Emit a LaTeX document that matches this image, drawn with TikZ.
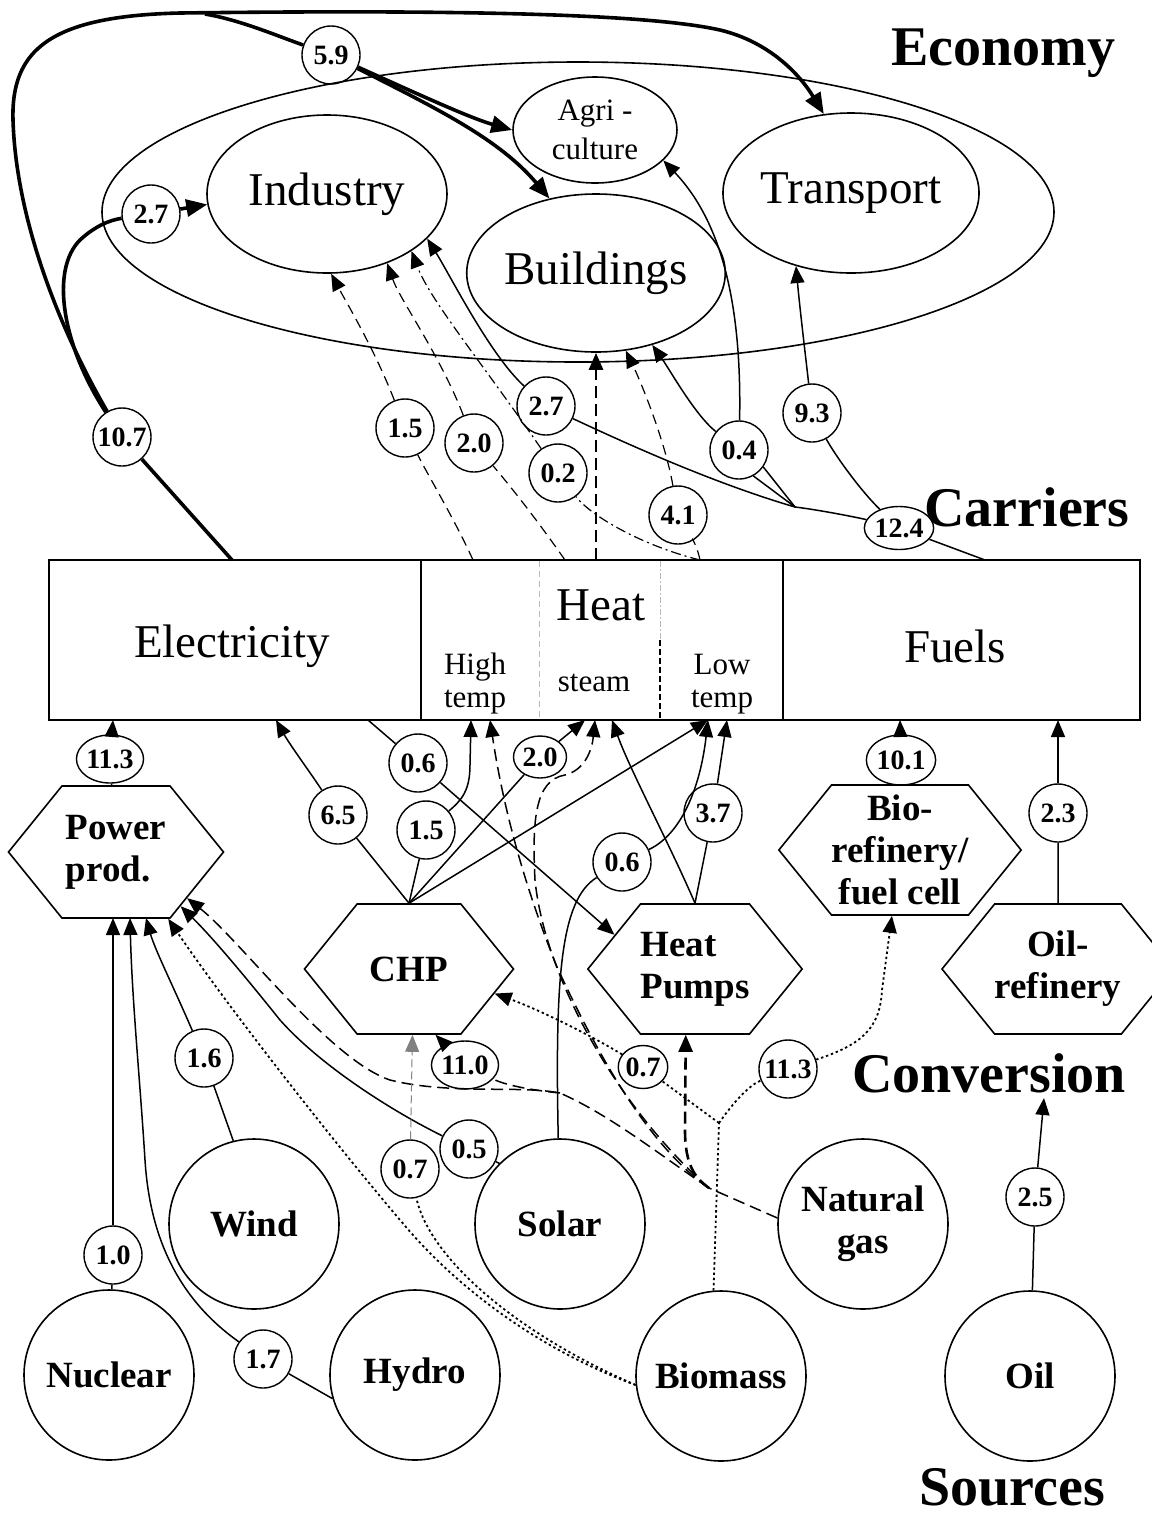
\documentclass[tikz,border=0pt]{standalone}
\usepackage{fontspec}
\setmainfont{Liberation Serif}
\usetikzlibrary{arrows.meta,shapes.geometric,shapes.symbols}

\begin{document}
\begin{tikzpicture}[x=0.5pt,y=-0.5pt,>={Triangle[length=8.5pt,width=7pt]},
  sector/.style={ellipse,draw,line width=0.8pt,inner sep=0pt,font=\fontsize{23.5}{26}\selectfont},
  carrier/.style={rectangle,draw,line width=0.9pt,minimum height=80pt,inner sep=0pt},
  bigword/.style={font=\fontsize{23.5}{26}\selectfont},
  plant/.style={signal,signal to=west and east,signal pointer angle=102,draw,line width=0.8pt,minimum height=65pt,inner sep=0pt,align=center,font=\fontsize{18.5}{21}\selectfont\bfseries},
  source/.style={circle,draw,line width=0.8pt,minimum size=85pt,inner sep=0pt,align=center,font=\fontsize{18.5}{21}\selectfont\bfseries},
  amount/.style={circle,draw,line width=0.7pt,minimum size=29pt,inner sep=0pt,font=\fontsize{14}{14}\selectfont\bfseries},
  flatamount/.style={amount,ellipse,minimum size=0pt},
  level/.style={font=\fontsize{28}{30}\selectfont\bfseries},
  sub/.style={align=center,font=\fontsize{15.5}{16.5}\selectfont},
  flow/.style={line width=0.75pt},
  fat/.style={line width=1.8pt},
  bigtip/.style={-{Triangle[length=10.5pt,width=8.5pt]}},
  gasline/.style={line width=0.75pt,dash pattern=on 6pt off 3pt},
  gasfat/.style={line width=1.3pt,dash pattern=on 6pt off 3pt},
  bioline/.style={line width=0.9pt,dash pattern=on 1.2pt off 1.4pt},
  heatline/.style={line width=0.6pt,dash pattern=on 5pt off 3pt},
  mixline/.style={line width=0.6pt,dash pattern=on 5pt off 2pt on 1pt off 2pt},
  faint/.style={line width=0.5pt,gray,dash pattern=on 4pt off 2pt}]

  \useasboundingbox (0,0) rectangle (1152,1517);

  % economy
  \node[sector,minimum width=476pt,minimum height=150pt] (econ) at (578,212) {};
  \node[sector,minimum width=120pt,minimum height=79pt] (indus) at (327,194) {Industry};
  \node[sector,minimum width=82pt,minimum height=53pt,align=center,font=\fontsize{15.5}{19.5}\selectfont] (agri) at (595,130) {Agri -\\culture};
  \node[sector,minimum width=121pt,minimum height=80pt] (trans) at (851,193) {Transport};
  \node[sector,minimum width=121pt,minimum height=79pt] (build) at (596,273) {Buildings};

  % carriers
  \node[carrier,minimum width=186pt] (elec) at (235,640) {};
  \node[carrier,minimum width=181pt] (heat) at (602,640) {};
  \node[carrier,minimum width=178.5pt] (fuels) at (961.5,640) {};
  \node[bigword] (elecname) at (232,646) {Electricity};
  \node[bigword] (heatname) at (601,605) {Heat};
  \node[bigword] (fuelsname) at (955,646) {Fuels};
  \node[sub] (hightemp) at (475,684) {High\\temp};
  \node[sub] (steam) at (594,683) {steam};
  \node[sub] (lowtemp) at (722,684) {Low\\temp};
  \draw[gray!55,line width=0.4pt,dash pattern=on 3pt off 2pt] (539,561) -- (539,719);
  \draw[gray!55,line width=0.4pt,dash pattern=on 3pt off 1pt on 1pt off 1pt] (660,561) -- (660,640);
  \draw[line width=1.1pt,dash pattern=on 3pt off 1.5pt] (660,640) -- (660,719);

  % conversion
  \node[plant,minimum width=107.5pt,minimum height=66pt,align=left] (power) at (116,852) {Power\\prod.};
  \node[plant,minimum width=104.5pt] (chp) at (409,969) {CHP};
  \node[plant,minimum width=105.5pt,align=left] (hpump) at (695,969) {Heat\\Pumps};
  \node[plant,minimum width=106.5pt] (biore) at (900,850) {Bio-\\refinery/\\fuel cell};
  \node[plant,minimum width=108pt] (oilre) at (1058,969) {Oil-\\refinery};

  % sources
  \node[source] (nucl) at (109,1375) {Nuclear};
  \node[source] (wind) at (254,1224) {Wind};
  \node[source] (hydro) at (415,1375) {Hydro};
  \node[source] (solar) at (560,1224) {Solar};
  \node[source] (bioms) at (721,1376) {Biomass};
  \node[source] (gas) at (863,1224) {Natural\\gas};
  \node[source] (oil) at (1030,1376) {Oil};

  % level names
  \node[level] (economy) at (1003,53) {Economy};
  \node[level] (carriers) at (1027,507) {Carriers};
  \node[level] (conversion) at (989,1073) {Conversion};
  \node[level] (sources) at (1012,1487) {Sources};

  % amounts
  \node[amount] (a59) at (331,55) {5.9};
  \node[amount] (a27a) at (151,214) {2.7};
  \node[amount] (a107) at (122,437) {10.7};
  \node[amount] (a15a) at (405,428) {1.5};
  \node[amount] (a20a) at (474,443) {2.0};
  \node[amount] (a27b) at (546,406) {2.7};
  \node[amount] (a02) at (558,473) {0.2};
  \node[amount] (a41) at (678,515) {4.1};
  \node[amount] (a04) at (739,450) {0.4};
  \node[amount] (a93) at (812,413) {9.3};
  \node[flatamount,minimum width=25pt,minimum height=21.5pt] (a124) at (899,528) {12.4};
  \node[flatamount,minimum width=29.5pt,minimum height=24pt] (a113a) at (110,759) {11.3};
  \node[amount] (a65) at (338,815) {6.5};
  \node[amount] (a06a) at (418,763) {0.6};
  \node[amount] (a15b) at (426,830) {1.5};
  \node[flatamount,minimum width=26.5pt,minimum height=21pt] (a20b) at (540,757) {2.0};
  \node[amount] (a06b) at (622,862) {0.6};
  \node[amount] (a37) at (713,813) {3.7};
  \node[flatamount,minimum width=29.5pt,minimum height=25pt] (a101) at (901,760) {10.1};
  \node[amount] (a23) at (1058,813) {2.3};
  \node[amount] (a16) at (204,1058) {1.6};
  \node[flatamount,minimum width=25pt,minimum height=24pt] (a110) at (465,1065) {11.0};
  \node[flatamount,minimum width=23.5pt,minimum height=21.5pt] (a07b) at (643,1067) {0.7};
  \node[amount] (a113b) at (788,1069) {11.3};
  \node[amount] (a05) at (469,1149) {0.5};
  \node[amount] (a07a) at (410,1169) {0.7};
  \node[amount] (a10) at (113,1255) {1.0};
  \node[amount] (a17) at (263,1359) {1.7};
  \node[amount] (a25) at (1035,1197) {2.5};

  % ports
  \coordinate (eUp) at (232,560);
  \coordinate (hUp1) at (473,560);
  \coordinate (hUp2) at (565,560);
  \coordinate (hUp3) at (596,560);
  \coordinate (hUp4) at (700,560);
  \coordinate (fUp) at (985,560);
  \coordinate (topfork) at (205,14);
  \coordinate (fuelfork) at (795,507);
  \coordinate (eIn1) at (113,720);
  \coordinate (eIn2) at (276,720);
  \coordinate (eOut) at (368,720);
  \coordinate (htIn1) at (471,720);
  \coordinate (htIn2) at (490,720);
  \coordinate (stIn1) at (585,720);
  \coordinate (stIn2) at (595,720);
  \coordinate (stIn3) at (612,720);
  \coordinate (ltIn1) at (708,720);
  \coordinate (ltIn2) at (727,720);
  \coordinate (fIn1) at (900,720);
  \coordinate (fIn2) at (1058,720);
  \coordinate (pIn1) at (113,918);
  \coordinate (pIn2) at (130,918);
  \coordinate (pIn3) at (146,918);
  \coordinate (gasfork) at (709,1188);
  \coordinate (gassplit) at (560,1093);
  \coordinate (biofork) at (719,1123);
  \coordinate (oilend) at (1044,1098);

  % electricity to the economy
  \draw[fat] (eUp) -- (a107);
  \draw[fat,bigtip] (a107) .. controls (60,330) and (16,220) .. (13,120) .. controls (11,50) and (50,16) .. (180,13) .. controls (420,10) and (640,12) .. (720,30) .. controls (770,42) and (800,75) .. (trans.109);
  \draw[fat] (a107) .. controls (62,345) and (50,270) .. (80,240) .. controls (95,226) and (110,220) .. (a27a);
  \draw[fat,bigtip] (a27a) -- (indus.-175);
  \draw[fat] (topfork) .. controls (240,20) and (275,35) .. (a59);
  \draw[fat,bigtip] (a59) .. controls (420,95) and (470,118) .. (agri.180);
  \draw[fat,bigtip] (a59) .. controls (440,110) and (500,140) .. (build.122);

  % heat and fuels to the economy
  \draw[heatline] (hUp1) .. controls (455,520) and (425,470) .. (a15a);
  \draw[heatline,->] (a15a) .. controls (375,350) and (345,300) .. (indus.-87);
  \draw[heatline] (hUp2) .. controls (530,510) and (505,480) .. (a20a);
  \draw[heatline,->] (a20a) .. controls (440,355) and (400,300) .. (indus.-49);
  \draw[mixline] (hUp4) .. controls (640,545) and (590,515) .. (a02);
  \draw[mixline,->] (a02) .. controls (480,360) and (430,300) .. (indus.-34);
  \draw[heatline] (hUp4) .. controls (697,545) and (690,535) .. (a41);
  \draw[heatline,->] (a41) .. controls (665,440) and (640,380) .. (build.-69);
  \draw[gasfat,->] (hUp3) -- (build.-90);
  \draw[flow] (fUp) -- (a124);
  \draw[flow] (a124) .. controls (860,518) and (820,510) .. (fuelfork) .. controls (720,485) and (640,450) .. (a27b);
  \draw[flow,->] (a27b) .. controls (490,355) and (450,275) .. (indus.-24);
  \draw[flow] (fuelfork) -- (a04.-61);
  \draw[flow] (fuelfork) -- (a04.-35);
  \draw[flow,->] (a04) .. controls (742,300) and (720,220) .. (agri.-24);
  \draw[flow,->] (a04) .. controls (695,415) and (670,370) .. (build.-52);
  \draw[flow] (a124) .. controls (860,490) and (835,455) .. (a93);
  \draw[flow,->] (a93) .. controls (806,360) and (800,310) .. (trans.-127);

  % conversion to carriers
  \draw[flow] (power) -- (a113a);
  \draw[flow,->] (a113a) -- (eIn1);
  \draw[flow] (chp.north) -- (a65);
  \draw[flow,->] (a65) .. controls (312,775) and (290,745) .. (eIn2);
  \draw[flow] (chp.north) -- (a15b);
  \draw[flow,->] (a15b) .. controls (462,800) and (470,790) .. (470,765) -- (htIn1);
  \draw[flow] (chp.north) -- (a20b);
  \draw[flow,->] (a20b) -- (stIn1);
  \draw[flow,->] (chp.north) -- (ltIn1);
  \draw[flow] (eOut) -- (a06a);
  \draw[flow,->] (a06a) -- (hpump.157.7);
  \draw[flow,->] (hpump.north) .. controls (670,845) and (630,770) .. (stIn3);
  \draw[flow] (hpump.north) -- (a37);
  \draw[flow,->] (a37) -- (ltIn2);
  \draw[flow] (solar) .. controls (555,980) and (560,900) .. (a06b);
  \draw[flow,->] (a06b) .. controls (680,835) and (700,790) .. (ltIn1);
  \draw[flow] (biore) -- (a101);
  \draw[flow,->] (a101) -- (fIn1);
  \draw[flow] (oilre) -- (a23);
  \draw[flow,->] (a23) -- (fIn2);

  % sources to conversion
  \draw[flow] (nucl) -- (a10);
  \draw[flow,->] (a10) -- (pIn1);
  \draw[flow] (hydro.196) -- (a17);
  \draw[flow,->] (a17) .. controls (180,1300) and (150,1240) .. (145,1160) .. controls (140,1080) and (132,1000) .. (pIn2);
  \draw[flow] (wind.104) -- (a16);
  \draw[flow,->] (a16) .. controls (175,990) and (155,950) .. (pIn3);
  \draw[flow] (solar.135) -- (a05);
  \draw[flow,->] (a05) .. controls (390,1110) and (320,1065) .. (280,1020) .. controls (240,970) and (210,935) .. (power.-40);
  % natural gas
  \draw[gasline] (gas.176) -- (gasfork);
  \draw[gasline,->] (gasfork) .. controls (660,1155) and (610,1115) .. (gassplit) .. controls (520,1085) and (450,1095) .. (390,1080) .. controls (330,1060) and (240,940) .. (power.-33);
  \draw[gasline] (gassplit) .. controls (530,1090) and (505,1085) .. (a110);
  \draw[flow,->] (a110) -- (chp.-68);
  \draw[gasfat,->] (gasfork) .. controls (695,1178) and (685,1165) .. (685,1130) -- (hpump.-98);
  \draw[gasline,->] (gasfork) .. controls (650,1147) and (600,1060) .. (557,967) .. controls (530,900) and (505,820) .. (htIn2);
  \draw[gasline,->] (gasfork) .. controls (620,1110) and (545,980) .. (535,880) .. controls (532,820) and (535,780) .. (565,775) .. controls (585,770) and (592,750) .. (stIn2);
  % biomass
  \draw[bioline,->] (bioms.186) .. controls (540,1350) and (460,1290) .. (406,1227) .. controls (340,1150) and (230,1010) .. (power.-52);
  \draw[bioline] (bioms.186) .. controls (520,1335) and (430,1260) .. (a07a);
  \draw[faint,->] (a07a) -- (chp.-87);
  \draw[bioline] (bioms.95) -- (biofork);
  \draw[bioline] (biofork) .. controls (735,1100) and (750,1085) .. (a113b);
  \draw[bioline,->] (a113b) .. controls (860,1045) and (880,1030) .. (882,990) -- (biore.-97);
  \draw[bioline] (biofork) -- (a07b);
  \draw[bioline,->] (a07b) .. controls (590,1035) and (540,1010) .. (chp.-16);
  % oil
  \draw[flow] (oil) -- (a25);
  \draw[flow,->] (a25) -- (oilend);
\end{tikzpicture}
\end{document}
